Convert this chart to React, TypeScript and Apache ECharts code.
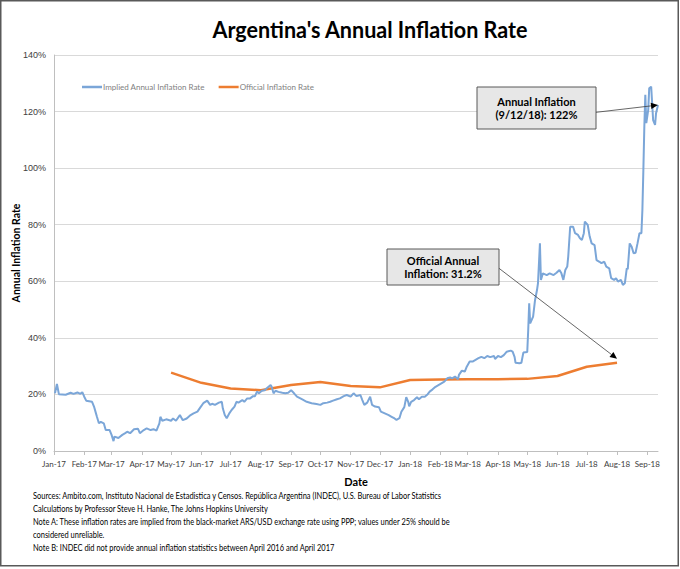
import React, { useEffect, useRef } from "react";
import * as echarts from "echarts";

const TITLE = "Argentina's Annual Inflation Rate";
const Y_NAME = "Annual Inflation Rate";
const X_NAME = "Date";
const IMPLIED_NAME = "Implied Annual Inflation Rate";
const OFFICIAL_NAME = "Official Inflation Rate";

const monthLabels = [
  "Jan-17", "Feb-17", "Mar-17", "Apr-17", "May-17", "Jun-17", "Jul-17", "Aug-17", "Sep-17", "Oct-17",
  "Nov-17", "Dec-17", "Jan-18", "Feb-18", "Mar-18", "Apr-18", "May-18", "Jun-18", "Jul-18", "Aug-18", "Sep-18",
];

const officialMonths = [
  "2017-05-01", "2017-06-01", "2017-07-01", "2017-08-01", "2017-09-01", "2017-10-01", "2017-11-01", "2017-12-01",
  "2018-01-01", "2018-02-01", "2018-03-01", "2018-04-01", "2018-05-01", "2018-06-01", "2018-07-01", "2018-08-01",
];
const officialValues = [27.7, 24.1, 22.1, 21.5, 23.3, 24.4, 23.0, 22.5, 25.1, 25.3, 25.4, 25.4, 25.5, 26.5, 29.8, 31.2];

const impliedSeries: [string, number][] = [
  ["2017-01-02", 20.4], ["2017-01-04", 23.7], ["2017-01-06", 20.1], ["2017-01-13", 19.9], ["2017-01-18", 20.6],
  ["2017-01-21", 20.2], ["2017-01-25", 20.7], ["2017-01-28", 20.2], ["2017-01-30", 20.8], ["2017-02-01", 19.2],
  ["2017-02-03", 17.8], ["2017-02-09", 17.4], ["2017-02-11", 15.7], ["2017-02-13", 13.3], ["2017-02-14", 12.1],
  ["2017-02-16", 9.8], ["2017-02-18", 10.3], ["2017-02-21", 9.8], ["2017-02-23", 7.4], ["2017-02-27", 7.4],
  ["2017-03-01", 5.7], ["2017-03-03", 3.5], ["2017-03-04", 5.1], ["2017-03-08", 4.6], ["2017-03-12", 5.7],
  ["2017-03-15", 6.3], ["2017-03-17", 6.8], ["2017-03-20", 6.3], ["2017-03-24", 7.7], ["2017-03-28", 7.9],
  ["2017-03-30", 6.3], ["2017-04-03", 7.4], ["2017-04-06", 8.0], ["2017-04-10", 7.4], ["2017-04-13", 7.7],
  ["2017-04-16", 7.2], ["2017-04-19", 9.8], ["2017-04-20", 12.1], ["2017-04-22", 10.7], ["2017-04-26", 11.2],
  ["2017-05-01", 10.7], ["2017-05-03", 11.5], ["2017-05-06", 10.7], ["2017-05-10", 12.7], ["2017-05-13", 10.9],
  ["2017-05-17", 11.5], ["2017-05-21", 12.7], ["2017-05-24", 13.3], ["2017-05-28", 13.9], ["2017-05-31", 15.4],
  ["2017-06-03", 16.9], ["2017-06-07", 17.8], ["2017-06-10", 16.3], ["2017-06-12", 16.7], ["2017-06-15", 16.3],
  ["2017-06-19", 17.1], ["2017-06-22", 17.4], ["2017-06-23", 15.1], ["2017-06-25", 12.7], ["2017-06-27", 11.6],
  ["2017-06-30", 13.5], ["2017-07-02", 14.5], ["2017-07-05", 15.7], ["2017-07-07", 17.4], ["2017-07-09", 17.1],
  ["2017-07-13", 18.0], ["2017-07-15", 17.4], ["2017-07-18", 18.6], ["2017-07-21", 18.6], ["2017-07-24", 19.4],
  ["2017-07-26", 19.4], ["2017-07-28", 21.0], ["2017-07-30", 20.4], ["2017-08-02", 21.3], ["2017-08-05", 21.5],
  ["2017-08-07", 22.2], ["2017-08-11", 23.3], ["2017-08-12", 22.8], ["2017-08-14", 20.4], ["2017-08-16", 21.3],
  ["2017-08-19", 20.9], ["2017-08-23", 20.6], ["2017-08-26", 20.4], ["2017-08-29", 20.6], ["2017-09-01", 21.5],
  ["2017-09-04", 20.4], ["2017-09-07", 19.2], ["2017-09-12", 18.3], ["2017-09-17", 17.4], ["2017-09-22", 16.9],
  ["2017-09-27", 16.6], ["2017-10-01", 16.3], ["2017-10-04", 16.9], ["2017-10-08", 17.1], ["2017-10-11", 17.4],
  ["2017-10-14", 17.8], ["2017-10-18", 18.3], ["2017-10-21", 18.6], ["2017-10-25", 19.4], ["2017-10-28", 19.8],
  ["2017-11-01", 19.2], ["2017-11-04", 20.4], ["2017-11-07", 19.4], ["2017-11-11", 19.8], ["2017-11-13", 18.0],
  ["2017-11-15", 16.3], ["2017-11-18", 17.1], ["2017-11-21", 19.2], ["2017-11-23", 16.3], ["2017-11-26", 15.7],
  ["2017-11-30", 15.5], ["2017-12-02", 13.9], ["2017-12-06", 13.3], ["2017-12-10", 12.7], ["2017-12-13", 12.1],
  ["2017-12-16", 11.5], ["2017-12-18", 11.0], ["2017-12-21", 11.6], ["2017-12-23", 13.9], ["2017-12-26", 15.5],
  ["2017-12-28", 19.0], ["2017-12-30", 17.4], ["2017-12-31", 15.8], ["2018-01-02", 17.4], ["2018-01-05", 18.0],
  ["2018-01-08", 19.0], ["2018-01-10", 18.3], ["2018-01-13", 19.2], ["2018-01-16", 19.2], ["2018-01-19", 20.1],
  ["2018-01-21", 21.0], ["2018-01-24", 21.8], ["2018-01-27", 22.7], ["2018-01-30", 23.3], ["2018-02-02", 23.9],
  ["2018-02-05", 24.5], ["2018-02-08", 25.7], ["2018-02-11", 26.0], ["2018-02-13", 25.7], ["2018-02-16", 26.3],
  ["2018-02-19", 25.4], ["2018-02-20", 26.9], ["2018-02-23", 28.4], ["2018-02-26", 28.1], ["2018-02-28", 29.8],
  ["2018-03-03", 31.6], ["2018-03-06", 31.6], ["2018-03-09", 32.2], ["2018-03-12", 32.8], ["2018-03-15", 33.3],
  ["2018-03-18", 32.8], ["2018-03-21", 33.6], ["2018-03-24", 33.2], ["2018-03-28", 33.6], ["2018-03-29", 32.5],
  ["2018-04-01", 33.6], ["2018-04-04", 33.2], ["2018-04-07", 33.9], ["2018-04-10", 35.1], ["2018-04-14", 35.5],
  ["2018-04-16", 35.1], ["2018-04-18", 33.3], ["2018-04-19", 31.2], ["2018-04-23", 31.0], ["2018-04-25", 31.2],
  ["2018-04-27", 34.8], ["2018-05-01", 35.0], ["2018-05-02", 42.8], ["2018-05-03", 52.2], ["2018-05-04", 45.1],
  ["2018-05-07", 47.5], ["2018-05-09", 53.4], ["2018-05-11", 56.9], ["2018-05-12", 59.3], ["2018-05-14", 73.4],
  ["2018-05-15", 60.5], ["2018-05-17", 62.8], ["2018-05-21", 62.2], ["2018-05-24", 62.8], ["2018-05-28", 62.2],
  ["2018-05-31", 63.0], ["2018-06-03", 64.0], ["2018-06-05", 62.8], ["2018-06-07", 60.5], ["2018-06-09", 64.0],
  ["2018-06-11", 65.2], ["2018-06-12", 68.7], ["2018-06-14", 79.3], ["2018-06-17", 79.3], ["2018-06-19", 77.0],
  ["2018-06-22", 76.4], ["2018-06-24", 75.2], ["2018-06-26", 74.6], ["2018-06-28", 77.0], ["2018-06-29", 81.1],
  ["2018-07-02", 79.9], ["2018-07-04", 75.8], ["2018-07-06", 73.4], ["2018-07-09", 72.8], ["2018-07-11", 67.5],
  ["2018-07-14", 66.9], ["2018-07-16", 66.4], ["2018-07-19", 66.9], ["2018-07-21", 65.2], ["2018-07-24", 64.6],
  ["2018-07-26", 61.1], ["2018-07-29", 60.5], ["2018-07-31", 61.1], ["2018-08-02", 59.9], ["2018-08-05", 60.5],
  ["2018-08-07", 58.7], ["2018-08-09", 59.3], ["2018-08-11", 64.6], ["2018-08-12", 64.3], ["2018-08-14", 73.4],
  ["2018-08-16", 72.2], ["2018-08-18", 69.9], ["2018-08-20", 70.1], ["2018-08-22", 73.4], ["2018-08-24", 77.0],
  ["2018-08-26", 77.0], ["2018-08-27", 85.2], ["2018-08-28", 99.3], ["2018-08-29", 114.7], ["2018-08-30", 125.9],
  ["2018-08-31", 115.9], ["2018-09-02", 120.6], ["2018-09-03", 128.2], ["2018-09-05", 128.8], ["2018-09-07", 117.0],
  ["2018-09-09", 115.3], ["2018-09-10", 119.4], ["2018-09-12", 122.3],
];

const AXIS_START = "2017-01-01";
const AXIS_END = "2018-09-12";

const annotationImplied = ["Annual Inflation", "(9/12/18): 122%"];
const annotationOfficial = ["Official Annual", "Inflation: 31.2%"];

const footerLines = [
  "Sources: Ambito.com, Instituto Nacional de Estadistica y Censos. República Argentina (INDEC), U.S. Bureau of Labor Statistics",
  "Calculations by Professor Steve H. Hanke, The Johns Hopkins University",
  "Note A: These inflation rates are implied from the black-market ARS/USD exchange rate using PPP; values under 25% should be",
  "considered unreliable.",
  "Note B: INDEC did not provide annual inflation statistics between April 2016 and April 2017",
];

const FONT = "Lato, 'Open Sans', sans-serif";
const BLUE = "#7ba6d8";
const ORANGE = "#ed7d31";

const ts = (s: string) => {
  const [y, m, d] = s.split("-").map(Number);
  return new Date(y, m - 1, d).getTime();
};

const measure = (text: string, font: string) => {
  const ctx = document.createElement("canvas").getContext("2d");
  if (!ctx) return 0;
  ctx.font = font;
  return ctx.measureText(text).width;
};

const arrow = (x1: number, y1: number, x2: number, y2: number) => {
  const dx = x2 - x1;
  const dy = y2 - y1;
  const len = Math.sqrt(dx * dx + dy * dy) || 1;
  const ux = dx / len;
  const uy = dy / len;
  const hl = 7;
  const hw = 3.2;
  const bx = x2 - ux * hl;
  const by = y2 - uy * hl;
  return [
    { type: "line", shape: { x1, y1, x2: bx, y2: by }, style: { stroke: "#404040", lineWidth: 0.8 }, silent: true, z: 50 },
    {
      type: "polygon",
      shape: { points: [[x2, y2], [bx - uy * hw, by + ux * hw], [bx + uy * hw, by - ux * hw]] },
      style: { fill: "#000" },
      silent: true,
      z: 50,
    },
  ];
};

const box = (x: number, y: number, w: number, h: number, lines: string[]) => [
  {
    type: "rect",
    shape: { x, y, width: w, height: h },
    style: { fill: "#e7e7e7", stroke: "#595959", lineWidth: 1 },
    silent: true,
    z: 40,
  },
  ...lines.map((t, i) => ({
    type: "text",
    x: x + w / 2,
    y: y + h / 2 + (i - (lines.length - 1) / 2) * 13.5,
    style: { text: t, fill: "#000", fontSize: 11, fontWeight: "bold", fontFamily: FONT, align: "center", verticalAlign: "middle" },
    silent: true,
    z: 45,
  })),
];

export default function App() {
  const ref = useRef<HTMLDivElement>(null);

  useEffect(() => {
    if (!ref.current) return;
    const chart = echarts.init(ref.current, null, { renderer: "svg" });
    const monthTicks = monthLabels.map((_, i) => new Date(2017, i, 1).getTime());

    const option: any = {
      animation: false,
      backgroundColor: "#fff",
      textStyle: { fontFamily: FONT },
      grid: { left: 54, right: 22, top: 55, bottom: 118, outerBoundsMode: "none" },
      legend: {
        left: 77,
        top: 78,
        icon: "rect",
        itemWidth: 20,
        itemHeight: 2.5,
        itemGap: 14,
        textStyle: { fontSize: 8, color: "#7f7f7f", fontFamily: FONT, padding: [0, 0, 0, -4] },
        data: [IMPLIED_NAME, OFFICIAL_NAME],
      },
      xAxis: {
        type: "value",
        min: ts(AXIS_START),
        max: ts(AXIS_END),
        name: X_NAME,
        nameLocation: "middle",
        nameGap: 25,
        nameMoveOverlap: false,
        nameTextStyle: { fontSize: 11, fontWeight: "bold", color: "#000", fontFamily: FONT },
        axisLine: { show: true, lineStyle: { color: "#bfbfbf" } },
        axisTick: { show: true, customValues: monthTicks, length: 4, lineStyle: { color: "#bfbfbf" } },
        axisLabel: {
          customValues: monthTicks,
          hideOverlap: false,
          fontSize: 8,
          color: "#404040",
          margin: 9,
          fontFamily: FONT,
          formatter: (v: number) => {
            const d = new Date(v);
            const idx = (d.getFullYear() - 2017) * 12 + d.getMonth();
            return monthLabels[idx] ?? "";
          },
        },
        splitLine: { show: false },
      },
      yAxis: {
        type: "value",
        min: 0,
        max: 140,
        interval: 20,
        name: Y_NAME,
        nameLocation: "middle",
        nameGap: 33,
        nameMoveOverlap: false,
        nameTextStyle: { fontSize: 10.5, fontWeight: "bold", color: "#000", fontFamily: FONT },
        axisLine: { show: true, lineStyle: { color: "#bfbfbf" } },
        axisTick: { show: false },
        axisLabel: { formatter: "{value}%", fontSize: 9, color: "#404040", fontFamily: "'Liberation Sans', Arial, sans-serif", margin: 8 },
        splitLine: { show: true, lineStyle: { color: "#d9d9d9", width: 1 } },
      },
      series: [
        {
          name: IMPLIED_NAME,
          type: "line",
          data: impliedSeries.map(([d, v]) => [ts(d), v]),
          symbol: "none",
          lineStyle: { color: BLUE, width: 2 },
          itemStyle: { color: BLUE },
          z: 3,
        },
        {
          name: OFFICIAL_NAME,
          type: "line",
          data: officialMonths.map((d, i) => [ts(d), officialValues[i]]),
          symbol: "none",
          lineStyle: { color: ORANGE, width: 2.5 },
          itemStyle: { color: ORANGE },
          z: 2,
        },
      ],
    };
    chart.setOption(option);

    const last = impliedSeries[impliedSeries.length - 1];
    const pImplied = chart.convertToPixel({ gridIndex: 0 }, [ts(last[0]), last[1]]) as number[];
    const lastOff = officialMonths.length - 1;
    const pOfficial = chart.convertToPixel({ gridIndex: 0 }, [ts(officialMonths[lastOff]), officialValues[lastOff]]) as number[];

    const titleFont = `bold 22px Lato`;
    const titleScale = Math.min(1, 316 / (measure(TITLE, titleFont) || 316));
    const footFont = `9.5px Lato`;
    const footScale = Math.min(1, 410 / (measure(footerLines[0], footFont) || 410));
    const footY = [495.7, 509, 522, 535, 547.5];

    const graphic: any[] = [
      {
        type: "text",
        x: 370,
        y: 30,
        scaleX: titleScale,
        style: { text: TITLE, fill: "#000", fontSize: 22, fontWeight: "bold", fontFamily: FONT, align: "center", verticalAlign: "middle" },
        silent: true,
      },
      ...footerLines.map((t, i) => ({
        type: "text",
        x: 33,
        y: footY[i],
        scaleX: footScale,
        style: { text: t, fill: "#000", fontSize: 9.5, fontFamily: FONT, align: "left", verticalAlign: "middle" },
        silent: true,
      })),
      ...box(477, 87, 119, 42, annotationImplied),
      ...arrow(596, 112.3, pImplied[0], pImplied[1]),
      ...box(387, 249, 112, 36, annotationOfficial),
      ...arrow(499, 268.3, pOfficial[0], pOfficial[1] - 4),
      {
        type: "rect",
        shape: { x: 0.75, y: 0.75, width: 677.5, height: 565 },
        style: { fill: "none", stroke: "#595959", lineWidth: 1.5 },
        silent: true,
        z: 100,
      },
    ];
    chart.setOption({ graphic });

    return () => chart.dispose();
  }, []);

  return <div ref={ref} style={{ position: "fixed", left: 0, top: 0, width: 680, height: 569 }} />;
}
